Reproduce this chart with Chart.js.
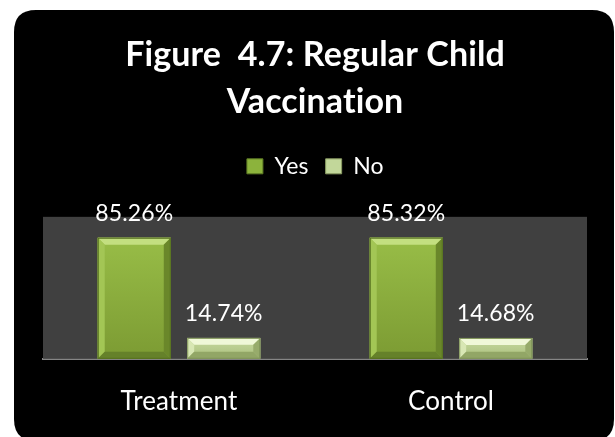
<!DOCTYPE html>
<html>
<head>
<meta charset="utf-8">
<script src="https://cdn.jsdelivr.net/npm/chart.js@4.4.1/dist/chart.umd.min.js"></script>
<style>
  html,body{margin:0;padding:0;background:#fff;}
  #wrap{width:615px;height:437px;position:relative;}
</style>
</head>
<body>
<div id="wrap"><canvas id="chart" width="615" height="437"></canvas></div>
<script>
const categories = ["Treatment", "Control"];
const yesValues = [85.26, 85.32];
const noValues = [14.74, 14.68];
const titleLines = ["Figure  4.7: Regular Child", "Vaccination"];

const FONT = "Lato, 'Noto Sans', sans-serif";

// bevel palettes: face gradient (top->bottom), then top/left/right/bottom edges
const BEVEL = {
  yes: { face:["#98bd47","#7c9b33"], top:"#c3df80", left:"#a3c655", right:"#6a872a", bottom:"#65812a", line:"#55701f" },
  no:  { face:["#c8dba0","#a9be7d"], top:"#f0f8d8", left:"#d8e7b4", right:"#97ab6b", bottom:"#92a666", line:"#7f9358" }
};

// black rounded card behind everything, gray plot area behind the bars
const cardBg = {
  id:"cardBg",
  beforeInit(c){
    // extra room between legend and plot area
    const fit=c.legend.fit;
    c.legend.fit=function(){ fit.call(this); this.height+=29; };
  },
  beforeDraw(c){
    const ctx=c.ctx; ctx.save();
    ctx.fillStyle="#fff"; ctx.fillRect(0,0,c.width,c.height);
    const x=14,y=10,w=600,h=431,r=22;
    ctx.beginPath();
    ctx.moveTo(x+r,y); ctx.lineTo(x+w-r,y); ctx.quadraticCurveTo(x+w,y,x+w,y+r);
    ctx.lineTo(x+w,y+h-r); ctx.quadraticCurveTo(x+w,y+h,x+w-r,y+h);
    ctx.lineTo(x+r,y+h); ctx.quadraticCurveTo(x,y+h,x,y+h-r);
    ctx.lineTo(x,y+r); ctx.quadraticCurveTo(x,y,x+r,y); ctx.closePath();
    ctx.fillStyle="#000"; ctx.fill();
    ctx.restore();
    // no "ti" ligature in Lato text
    ctx.textRendering="optimizeSpeed";
    ctx.letterSpacing="0.1px";
  },
  beforeDatasetsDraw(c){
    const a=c.chartArea, ctx=c.ctx; ctx.save();
    ctx.fillStyle="#404040"; ctx.fillRect(a.left,a.top,a.right-a.left,a.bottom-a.top);
    ctx.restore();
  }
};

// paint each bar as a bevelled block, then write its value on top
const bevelBars = {
  id:"bevelBars",
  afterDatasetsDraw(c){
    const ctx=c.ctx;
    c.data.datasets.forEach((ds,di)=>{
      const pal = di===0 ? BEVEL.yes : BEVEL.no;
      c.getDatasetMeta(di).data.forEach((el,i)=>{
        const {x,y,base,width}=el.getProps(["x","y","base","width"],true);
        const l=x-width/2, r=x+width/2, t=y, b=base, h=b-t;
        const e=Math.min(7,h/3);
        ctx.save();
        const g=ctx.createLinearGradient(0,t,0,b);
        g.addColorStop(0,pal.face[0]); g.addColorStop(1,pal.face[1]);
        ctx.fillStyle=g; ctx.fillRect(l,t,width,h);
        const poly=(pts,col)=>{ ctx.beginPath(); ctx.moveTo(pts[0][0],pts[0][1]);
          pts.slice(1).forEach(p=>ctx.lineTo(p[0],p[1])); ctx.closePath(); ctx.fillStyle=col; ctx.fill(); };
        poly([[l,t],[r,t],[r-e,t+e],[l+e,t+e]],pal.top);
        poly([[l,t],[l+e,t+e],[l+e,b-e],[l,b]],pal.left);
        poly([[r,t],[r,b],[r-e,b-e],[r-e,t+e]],pal.right);
        poly([[l,b],[l+e,b-e],[r-e,b-e],[r,b]],pal.bottom);
        ctx.strokeStyle=pal.line; ctx.lineWidth=1; ctx.strokeRect(l+0.5,t+0.5,width-1,h-1);
        ctx.fillStyle="#fff"; ctx.font="23px "+FONT; ctx.textAlign="center"; ctx.textBaseline="alphabetic";
        ctx.fillText(ds.data[i].toFixed(2)+"%", x, t-17);
        ctx.restore();
      });
    });
  }
};

new Chart(document.getElementById("chart"),{
  type:"bar",
  data:{ labels:categories, datasets:[
    { label:"Yes", data:yesValues, backgroundColor:BEVEL.yes.face[0] },
    { label:"No",  data:noValues,  backgroundColor:BEVEL.no.face[0] }
  ]},
  plugins:[cardBg,bevelBars],
  options:{
    responsive:false, animation:false, devicePixelRatio:1,
    categoryPercentage:0.658, barPercentage:0.816,
    layout:{ padding:{ left:43, right:28, top:20, bottom:-7 } },
    plugins:{
      title:{ display:true, text:titleLines, color:"#fff",
        font:{ family:FONT, size:34, weight:"bold", lineHeight:1.38 }, padding:{ top:12, bottom:12 } },
      legend:{ display:true, position:"top",
        labels:{ color:"#fff", font:{ family:FONT, size:23 }, boxWidth:16, boxHeight:15, padding:17,
          generateLabels:(c)=>c.data.datasets.map((ds,i)=>({
            text:ds.label, fillStyle:i===0?"#8cb33c":"#c2d79a", strokeStyle:i===0?"#5f7d24":"#8a9c62",
            lineWidth:1, fontColor:"#fff", datasetIndex:i, hidden:false })) } },
      tooltip:{ enabled:false }
    },
    scales:{
      x:{ grid:{ display:false, drawTicks:false }, border:{ color:"#868686", width:2 },
        ticks:{ color:"#fff", font:{ family:FONT, size:26 }, padding:27 } },
      y:{ display:false, min:0, max:100 }
    }
  }
});
</script>
</body>
</html>
